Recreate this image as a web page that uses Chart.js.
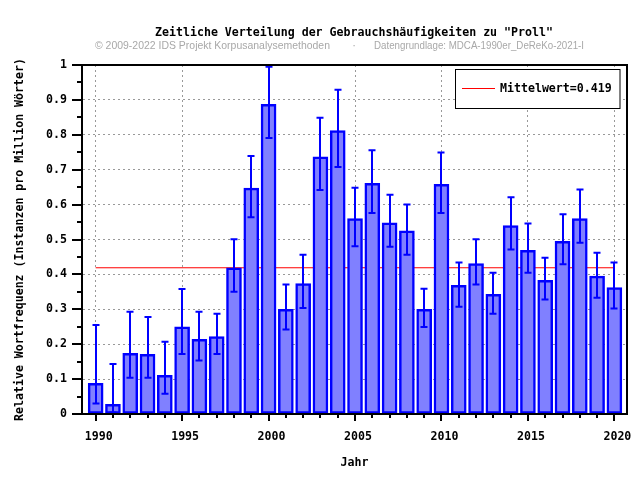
<!DOCTYPE html>
<html>
<head>
<meta charset="utf-8">
<script src="https://cdn.jsdelivr.net/npm/chart.js@4"></script>
<style>
  html, body { margin: 0; padding: 0; background: #fff; }
  #wrap { width: 640px; height: 480px; }
</style>
</head>
<body>
<div id="wrap"><canvas id="c" width="640" height="480"></canvas></div>
<script>
const years = [1990,1991,1992,1993,1994,1995,1996,1997,1998,1999,2000,2001,2002,2003,2004,2005,2006,2007,2008,2009,2010,2011,2012,2013,2014,2015,2016,2017,2018,2019,2020];
const values = [0.088,0.028,0.174,0.171,0.111,0.250,0.214,0.222,0.419,0.647,0.887,0.300,0.374,0.737,0.812,0.560,0.661,0.548,0.525,0.300,0.658,0.369,0.431,0.343,0.540,0.469,0.383,0.495,0.560,0.395,0.362];
const errLow = [0.030,0.004,0.104,0.104,0.058,0.172,0.153,0.172,0.350,0.564,0.791,0.242,0.304,0.642,0.708,0.481,0.576,0.479,0.456,0.249,0.576,0.307,0.371,0.287,0.471,0.405,0.328,0.429,0.491,0.333,0.302];
const errHigh = [0.255,0.143,0.293,0.278,0.207,0.358,0.293,0.287,0.501,0.739,0.995,0.371,0.456,0.849,0.929,0.648,0.756,0.628,0.600,0.359,0.749,0.434,0.501,0.405,0.621,0.546,0.448,0.572,0.643,0.462,0.434];
const meanValue = 0.419;
const meanLabel = "Mittelwert=0.419";
const titleText = 'Zeitliche Verteilung der Gebrauchshäufigkeiten zu "Proll"';
const subtitleLeft = "© 2009-2022 IDS Projekt Korpusanalysemethoden";
const subtitleDot = "·";
const subtitleRight = "Datengrundlage: MDCA-1990er_DeReKo-2021-I";
const xAxisTitle = "Jahr";
const yAxisTitle = "Relative Wortfrequenz (Instanzen pro Million Wörter)";

const MONO = '"DejaVu Sans Mono", monospace';
const FS = 11.6;

const decor = {
  id: 'decor',
  beforeDraw(chart) {
    const ctx = chart.ctx;
    ctx.save();
    ctx.fillStyle = '#fff';
    ctx.fillRect(0, 0, chart.width, chart.height);
    ctx.restore();
  },
  afterDatasetsDraw(chart) {
    const ctx = chart.ctx;
    const xs = chart.scales.x, ys = chart.scales.y;
    ctx.save();
    ctx.strokeStyle = '#0000ff';
    ctx.lineWidth = 2;
    for (let i = 0; i < years.length; i++) {
      const x = Math.round(xs.getPixelForValue(years[i]));
      const yl = ys.getPixelForValue(errLow[i]);
      const yh = ys.getPixelForValue(errHigh[i]);
      ctx.beginPath();
      ctx.moveTo(x, yl); ctx.lineTo(x, yh);
      ctx.moveTo(x - 3.5, yl); ctx.lineTo(x + 3.5, yl);
      ctx.moveTo(x - 3.5, yh); ctx.lineTo(x + 3.5, yh);
      ctx.stroke();
    }
    ctx.restore();
  },
  afterDraw(chart) {
    const ctx = chart.ctx;
    const a = chart.chartArea;
    const xs = chart.scales.x, ys = chart.scales.y;
    ctx.save();
    ctx.strokeStyle = '#000';
    ctx.lineWidth = 2;
    ctx.strokeRect(a.left, a.top, a.right - a.left, a.bottom - a.top);
    ctx.beginPath();
    for (let k = 0; k <= 20; k++) {
      const v = k * 0.05;
      const y = Math.round(ys.getPixelForValue(v));
      const len = (k % 2 === 0) ? 10 : 5;
      ctx.moveTo(a.left - len, y); ctx.lineTo(a.left, y);
    }
    for (let i = 0; i < years.length; i++) {
      const x = Math.round(xs.getPixelForValue(years[i]));
      const len = (years[i] % 5 === 0) ? 7 : 4;
      ctx.moveTo(x, a.bottom); ctx.lineTo(x, a.bottom + len);
    }
    ctx.stroke();
    ctx.fillStyle = '#000';
    ctx.font = 'bold ' + FS + 'px ' + MONO;
    ctx.textAlign = 'center';
    ctx.textBaseline = 'middle';
    ctx.fillText(titleText, 354, 33);
    ctx.fillStyle = '#a8a8a8';
    ctx.font = '11px "Liberation Sans", Arial, sans-serif';
    ctx.textAlign = 'left';
    ctx.fillText(subtitleLeft, 95, 46, 235);
    ctx.textAlign = 'center';
    ctx.fillText(subtitleDot, 354, 46);
    ctx.textAlign = 'left';
    ctx.fillText(subtitleRight, 374, 46, 210);
    const ds = chart.data.datasets[1];
    const lx = 455.5, ly = 69.5, lw = 164.5, lh = 39;
    ctx.fillStyle = '#fff';
    ctx.fillRect(lx, ly, lw, lh);
    ctx.strokeStyle = '#000';
    ctx.lineWidth = 1;
    ctx.strokeRect(lx, ly, lw, lh);
    ctx.strokeStyle = ds.borderColor;
    ctx.beginPath();
    ctx.moveTo(462, 88.5); ctx.lineTo(495, 88.5);
    ctx.stroke();
    ctx.fillStyle = '#000';
    ctx.font = 'bold ' + FS + 'px ' + MONO;
    ctx.textAlign = 'left';
    ctx.fillText(ds.label, 500, 89);
    ctx.restore();
  }
};

new Chart(document.getElementById('c'), {
  type: 'bar',
  data: {
    datasets: [
      {
        type: 'bar',
        label: 'Frequenz',
        data: years.map((y, i) => ({x: y, y: values[i]})),
        backgroundColor: '#8080ff',
        borderColor: '#0000ff',
        borderWidth: 2.5,
        borderSkipped: false,
        barThickness: 15,
        order: 1
      },
      {
        type: 'line',
        label: meanLabel,
        data: [{x: years[0], y: meanValue}, {x: years[years.length - 1], y: meanValue}],
        borderColor: '#ff0000',
        borderWidth: 1,
        pointRadius: 0,
        fill: false,
        order: 2
      }
    ]
  },
  options: {
    responsive: false,
    animation: false,
    events: [],
    layout: { padding: { top: 65, right: 13, left: 0, bottom: 0 } },
    plugins: {
      legend: { display: false },
      title: { display: false },
      tooltip: { enabled: false }
    },
    scales: {
      x: {
        type: 'linear',
        offset: false,
        min: 1989.21,
        max: 2020.73,
        afterFit(s) { s.height = 66; s.paddingLeft = 0; s.paddingRight = 0; },
        border: { display: true, color: '#000', width: 2, dash: [2, 3] },
        grid: { display: true, drawTicks: false, color: '#999999', lineWidth: 1, offset: false },
        ticks: {
          stepSize: 5,
          includeBounds: false,
          padding: 16,
          labelOffset: 3,
          color: '#000',
          font: { family: MONO, size: FS, weight: 'bold' },
          maxRotation: 0,
          callback: v => String(v)
        },
        title: {
          display: true,
          text: xAxisTitle,
          color: '#000',
          font: { family: MONO, size: FS, weight: 'bold' },
          padding: { top: 0, bottom: 10 }
        }
      },
      y: {
        min: 0,
        max: 1,
        afterFit(s) { s.width = 82; s.paddingTop = 0; s.paddingBottom = 0; },
        border: { display: true, color: '#000', width: 2, dash: [2, 3] },
        grid: { display: true, drawTicks: false, color: '#999999', lineWidth: 1 },
        ticks: {
          stepSize: 0.1,
          padding: 15,
          color: '#000',
          font: { family: MONO, size: FS, weight: 'bold' },
          callback: v => String(Number(v.toFixed(2)))
        },
        title: {
          display: true,
          text: yAxisTitle,
          color: '#000',
          font: { family: MONO, size: FS, weight: 'bold' },
          padding: { top: 13, bottom: 0 }
        }
      }
    }
  },
  plugins: [decor]
});
</script>
</body>
</html>
